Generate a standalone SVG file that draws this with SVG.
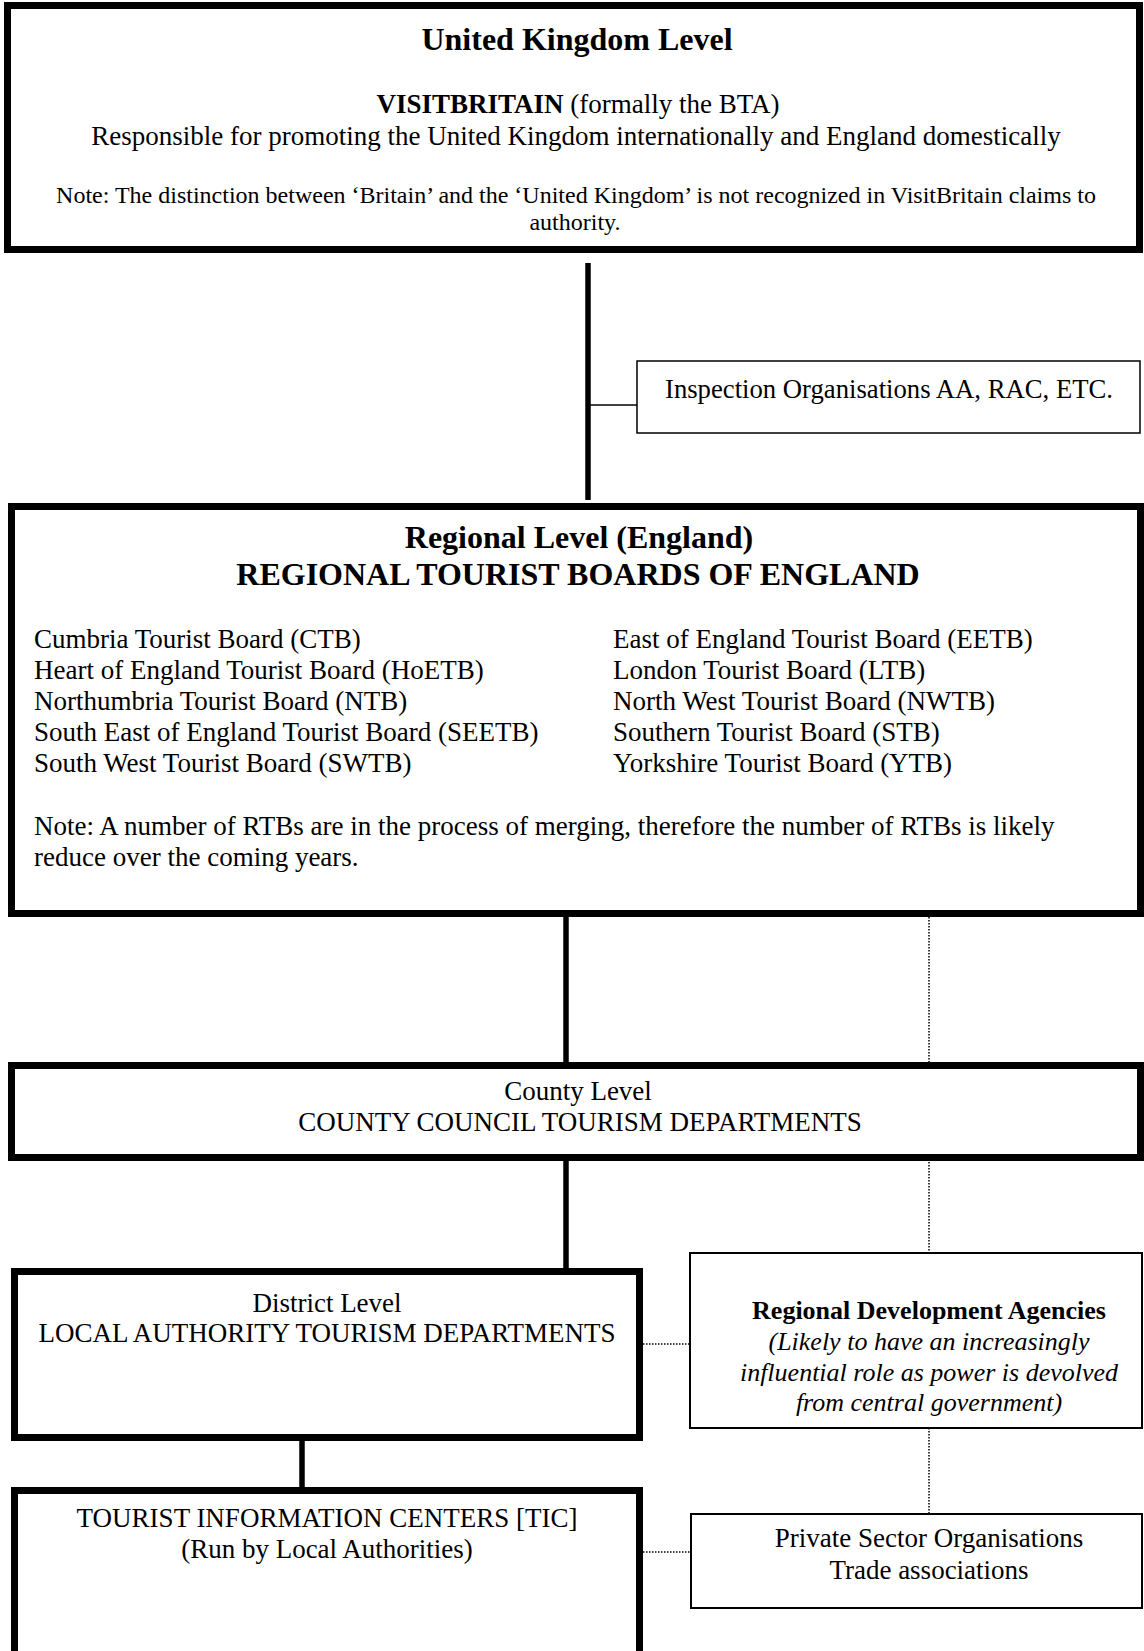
<svg xmlns="http://www.w3.org/2000/svg" width="1144" height="1651" viewBox="0 0 1144 1651">
<style>
text{font-family:"Liberation Serif","Times New Roman",serif;fill:#000}
.t{font-size:32px;font-weight:bold}
.b{font-size:27px}
.n{font-size:24px}
.c{text-anchor:middle}
.bd{font-weight:bold}
.it{font-style:italic}
.thick{fill:#fff;stroke:#000;stroke-width:7}
.thin{fill:#fff;stroke:#000;stroke-width:1.5}
.med{fill:#fff;stroke:#000;stroke-width:2}
.solid{stroke:#000;stroke-width:5.5;fill:none}
.hair{stroke:#000;stroke-width:1.5;fill:none}
.dot{stroke:#000;stroke-width:1.5;stroke-dasharray:1.5 1.5;fill:none}
</style>
<rect width="1144" height="1651" fill="#fff"/>
<g id="connectors">
<line class="solid" x1="588" y1="263" x2="588" y2="500"/>
<line class="hair" x1="588" y1="405" x2="637" y2="405"/>
<line class="solid" x1="566" y1="917" x2="566" y2="1062"/>
<line class="dot" x1="929" y1="917" x2="929" y2="1062"/>
<line class="solid" x1="566" y1="1159" x2="566" y2="1270"/>
<line class="dot" x1="929" y1="1159" x2="929" y2="1252"/>
<line class="dot" x1="643" y1="1344" x2="689" y2="1344"/>
<line class="solid" x1="302" y1="1441" x2="302" y2="1487"/>
<line class="dot" x1="929" y1="1428" x2="929" y2="1513"/>
<line class="dot" x1="643" y1="1552" x2="690" y2="1552"/>
</g>
<g id="uk-level">
<rect class="thick" x="7.5" y="5.5" width="1132" height="244"/>
<text class="t c" x="577" y="50">United Kingdom Level</text>
<text class="b c" x="578" y="113"><tspan class="bd">VISITBRITAIN</tspan> (formally the BTA)</text>
<text class="b c" x="576" y="145">Responsible for promoting the United Kingdom internationally and England domestically</text>
<text class="n c" x="576" y="203">Note: The distinction between ‘Britain’ and the ‘United Kingdom’ is not recognized in VisitBritain claims to</text>
<text class="n c" x="575" y="230">authority.</text>
</g>
<g id="inspection">
<rect class="thin" x="637" y="361" width="503" height="72"/>
<text class="b" x="665" y="398" style="font-size:26.7px">Inspection Organisations AA, RAC, ETC.</text>
</g>
<g id="regional-level">
<rect class="thick" x="11.5" y="506.5" width="1129" height="407"/>
<text class="t c" x="579" y="548">Regional Level (England)</text>
<text class="t c" x="578" y="585">REGIONAL TOURIST BOARDS OF ENGLAND</text>
<text class="b" x="34" y="648">Cumbria Tourist Board (CTB)</text>
<text class="b" x="34" y="679">Heart of England Tourist Board (HoETB)</text>
<text class="b" x="34" y="710">Northumbria Tourist Board (NTB)</text>
<text class="b" x="34" y="741">South East of England Tourist Board (SEETB)</text>
<text class="b" x="34" y="772">South West Tourist Board (SWTB)</text>
<text class="b" x="613" y="648">East of England Tourist Board (EETB)</text>
<text class="b" x="613" y="679">London Tourist Board (LTB)</text>
<text class="b" x="613" y="710">North West Tourist Board (NWTB)</text>
<text class="b" x="613" y="741">Southern Tourist Board (STB)</text>
<text class="b" x="613" y="772">Yorkshire Tourist Board (YTB)</text>
<text class="b" x="34" y="835">Note: A number of RTBs are in the process of merging, therefore the number of RTBs is likely</text>
<text class="b" x="34" y="866">reduce over the coming years.</text>
</g>
<g id="county-level">
<rect class="thick" x="11.5" y="1065.5" width="1129" height="92"/>
<text class="b c" x="578" y="1100">County Level</text>
<text class="b c" x="580" y="1131">COUNTY COUNCIL TOURISM DEPARTMENTS</text>
</g>
<g id="district-level">
<rect class="thick" x="14.5" y="1271.5" width="625" height="166"/>
<text class="b c" x="327" y="1312">District Level</text>
<text class="b c" x="327" y="1342">LOCAL AUTHORITY TOURISM DEPARTMENTS</text>
</g>
<g id="rda">
<rect class="med" x="690" y="1253" width="452" height="175"/>
<text class="b c bd" x="929" y="1319" style="font-size:26px">Regional Development Agencies</text>
<text class="b c it" x="929" y="1350" style="font-size:26px">(Likely to have an increasingly</text>
<text class="b c it" x="929" y="1381" style="font-size:26px">influential role as power is devolved</text>
<text class="b c it" x="929" y="1411" style="font-size:26px">from central government)</text>
</g>
<g id="tic">
<rect class="thick" x="14.5" y="1490.5" width="625" height="200"/>
<text class="b c" x="327" y="1527">TOURIST INFORMATION CENTERS [TIC]</text>
<text class="b c" x="327" y="1558">(Run by Local Authorities)</text>
</g>
<g id="private-sector">
<rect class="med" x="691" y="1514" width="451" height="94"/>
<text class="b c" x="929" y="1547">Private Sector Organisations</text>
<text class="b c" x="929" y="1579">Trade associations</text>
</g>
</svg>
